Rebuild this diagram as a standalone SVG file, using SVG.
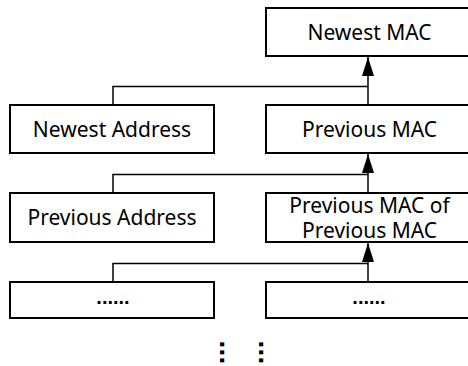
<svg xmlns="http://www.w3.org/2000/svg" width="468" height="366" viewBox="0 0 468 366">
<defs>
<style>
.box{fill:#fff;stroke:#000;stroke-width:2}
.t{font-family:"Noto Sans","Liberation Sans",sans-serif;font-size:21px;text-anchor:middle;fill:#000}
.c{fill:none;stroke:#000;stroke-width:1.5}
.d{font-family:"Liberation Sans",sans-serif;font-size:20px;font-weight:bold}
.v{font-family:"Liberation Sans",sans-serif;font-size:28px;font-weight:bold;letter-spacing:0.3px}
</style>
<marker id="ah" markerWidth="19" markerHeight="12" refX="19" refY="6" orient="auto" markerUnits="userSpaceOnUse" viewBox="0 0 19 12">
<path d="M0 0 L19 6 L0 12 Z" fill="#000"/>
</marker>
</defs>
<g id="connectors">
<path class="c" d="M113 105 V86.5 H368"/>
<path class="c" d="M368 105 V57" marker-end="url(#ah)"/>
<path class="c" d="M113 193 V174.5 H368"/>
<path class="c" d="M368 193 V154" marker-end="url(#ah)"/>
<path class="c" d="M113 282 V263.5 H368"/>
<path class="c" d="M368 282 V243" marker-end="url(#ah)"/>
</g>
<g id="newest-mac"><rect class="box" x="266" y="8" width="206" height="48"/><text class="t" x="369.5" y="39.5">Newest MAC</text></g>
<g id="newest-address"><rect class="box" x="10" y="105" width="204" height="48"/><text class="t" x="112" y="137">Newest Address</text></g>
<g id="previous-mac"><rect class="box" x="266" y="105" width="206" height="48"/><text class="t" x="369.5" y="137">Previous MAC</text></g>
<g id="previous-address"><rect class="box" x="10" y="193" width="204" height="49"/><text class="t" x="112" y="225">Previous Address</text></g>
<g id="prev-mac-of-prev-mac"><rect class="box" x="266" y="193" width="206" height="49"/><text class="t" x="369.5" y="212.5">Previous MAC of</text><text class="t" x="369.5" y="238">Previous MAC</text></g>
<g id="etc-left"><rect class="box" x="10" y="282" width="204" height="36"/><text class="t d" x="113" y="304">......</text></g>
<g id="etc-right"><rect class="box" x="266" y="282" width="206" height="36"/><text class="t d" x="369" y="304">......</text></g>
<g id="vdots"><text class="t v" transform="translate(221.7 352.5) rotate(90)" x="0" y="2">...</text><text class="t v" transform="translate(260.7 352.5) rotate(90)" x="0" y="2">...</text></g>
</svg>
